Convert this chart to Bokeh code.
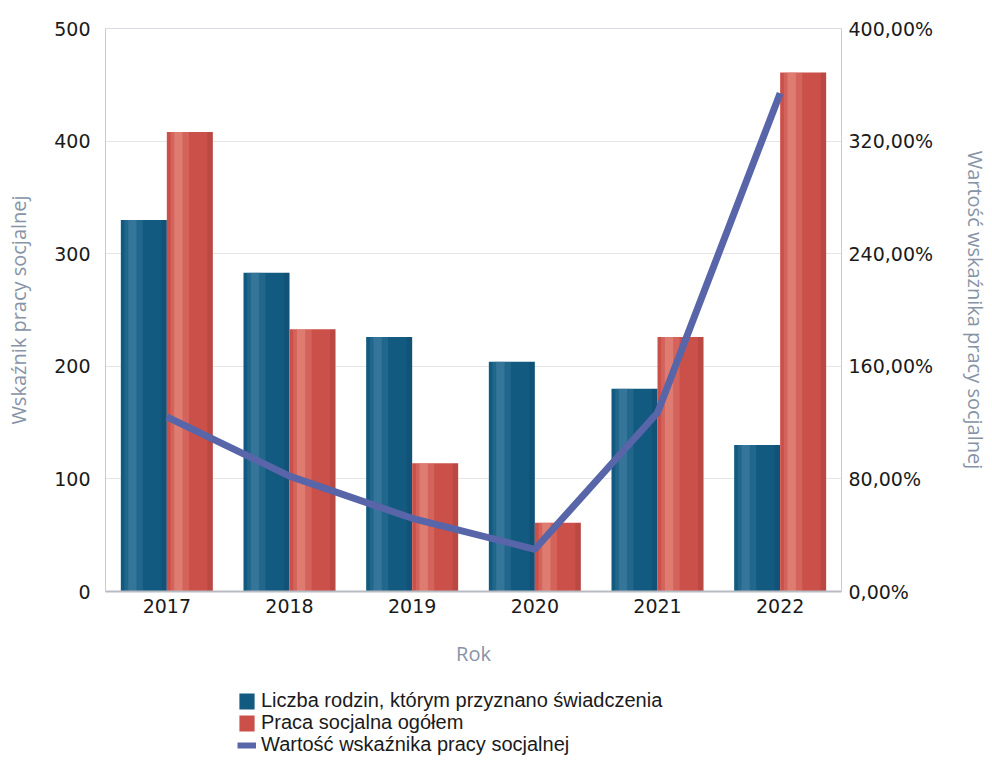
from bokeh.plotting import figure
from bokeh.layouts import column
from bokeh.models import (FactorRange, Range1d, LinearAxis, FixedTicker, Legend, LegendItem,
                          ColumnDataSource)
from bokeh.transform import dodge
from bokeh.embed import file_html
from bokeh.resources import INLINE

years = ["2017", "2018", "2019", "2020", "2021", "2022"]
rodziny = [330, 283, 226, 204, 180, 130]
praca = [408, 233, 114, 61, 226, 461]
wskaznik = [124, 82, 52, 30, 127, 354]

left_ticks = [0, 100, 200, 300, 400, 500]
right_ticks = [0, 80, 160, 240, 320, 400]
right_labels = ["0,00%", "80,00%", "160,00%", "240,00%", "320,00%", "400,00%"]

series_names = ["Liczba rodzin, którym przyznano świadczenia",
                "Praca socjalna ogółem",
                "Wartość wskaźnika pracy socjalnej"]

src = ColumnDataSource(dict(year=years, rodziny=rodziny, praca=praca, wsk=wskaznik))

BLUE = "#135a80"
BLUE_HI = "#5a93b5"
RED = "#cb5049"
RED_HI = "#ec9a8c"
SHADE = "#000000"
LINE = "#5865a8"
TITLE_COL = "#8793a6"
TICK_FONT = "DejaVu Sans"

W = 992
p = figure(width=W, height=686,
           x_range=FactorRange(*years, range_padding=0),
           y_range=Range1d(0, 500),
           output_backend="svg", toolbar_location=None,
           min_border_left=105, min_border_right=149, min_border_top=28, min_border_bottom=95)
p.extra_y_ranges = {"pct": Range1d(0, 400)}

p.outline_line_color = "#d9dde3"
p.xgrid.grid_line_color = None
p.ygrid.grid_line_color = "#e3e5e8"
p.ygrid.ticker = FixedTicker(ticks=left_ticks)

bw = 0.375


def shaded_bars(fig, offset, field, base, hi, hi_alpha):
    r = fig.vbar(x=dodge("year", offset, range=fig.x_range), top=field, width=bw, source=src,
                 fill_color=base, line_color=None)
    fig.vbar(x=dodge("year", offset - bw * 0.22, range=fig.x_range), top=field, width=bw * 0.4,
             source=src, fill_color=hi, fill_alpha=hi_alpha * 0.6, line_color=None)
    fig.vbar(x=dodge("year", offset - bw * 0.25, range=fig.x_range), top=field, width=bw * 0.18,
             source=src, fill_color=hi, fill_alpha=hi_alpha, line_color=None)
    fig.vbar(x=dodge("year", offset + bw * 0.44, range=fig.x_range), top=field, width=bw * 0.12,
             source=src, fill_color=SHADE, fill_alpha=0.08, line_color=None)
    return r


r1 = shaded_bars(p, -bw / 2, "rodziny", BLUE, BLUE_HI, 0.35)
r2 = shaded_bars(p, bw / 2, "praca", RED, RED_HI, 0.45)
r3 = p.line(x="year", y="wsk", source=src, y_range_name="pct", line_color=LINE, line_width=7)

# left axis
ya = p.yaxis[0]
ya.ticker = FixedTicker(ticks=left_ticks)
ya.axis_label = "Wskaźnik pracy socjalnej"
ya.axis_label_text_font = "Open Sans"
ya.axis_label_text_font_style = "normal"
ya.axis_label_text_font_size = "20px"
ya.axis_label_text_color = TITLE_COL
ya.axis_label_standoff = 19
ya.major_label_text_font = TICK_FONT
ya.major_label_text_font_size = "19px"
ya.major_label_text_color = "#1a1a1a"
ya.major_label_standoff = 15
ya.major_tick_line_color = None
ya.minor_tick_line_color = None
ya.major_tick_out = 0
ya.minor_tick_out = 0
ya.axis_line_color = "#c9cdd3"

# right axis
ra = LinearAxis(y_range_name="pct", ticker=FixedTicker(ticks=right_ticks))
ra.major_label_overrides = {t: l for t, l in zip(right_ticks, right_labels)}
ra.axis_label = "Wartość wskaźnika pracy socjalnej"
ra.axis_label_text_font = "Open Sans"
ra.axis_label_text_font_style = "normal"
ra.axis_label_text_font_size = "20px"
ra.axis_label_text_color = TITLE_COL
ra.axis_label_standoff = 26
ra.major_label_text_font = TICK_FONT
ra.major_label_text_font_size = "19px"
ra.major_label_text_color = "#1a1a1a"
ra.major_label_standoff = 7
ra.major_tick_line_color = None
ra.minor_tick_line_color = None
ra.major_tick_out = 0
ra.minor_tick_out = 0
ra.axis_line_color = "#c9cdd3"
p.add_layout(ra, "right")

# x axis
xa = p.xaxis[0]
xa.axis_label = "Rok"
xa.axis_label_text_font = "Open Sans"
xa.axis_label_text_font_style = "normal"
xa.axis_label_text_font_size = "20px"
xa.axis_label_text_color = TITLE_COL
xa.axis_label_standoff = 24
xa.major_label_text_font = TICK_FONT
xa.major_label_text_font_size = "19px"
xa.major_label_text_color = "#1a1a1a"
xa.major_label_standoff = 7
xa.major_tick_line_color = None
xa.minor_tick_line_color = None
xa.major_tick_out = 0
xa.axis_line_color = "#b8bcc2"
xa.axis_line_width = 2

# legend in its own strip below the chart (series kept out of view, only legend shown)
lg = figure(width=W, height=75, x_range=FactorRange(*years, range_padding=0),
            y_range=Range1d(600, 700),
            output_backend="svg", toolbar_location=None,
            min_border=0, min_border_left=0, min_border_right=0,
            min_border_top=0, min_border_bottom=0)
lg.axis.visible = False
lg.grid.visible = False
lg.outline_line_color = None
g1 = lg.vbar(x="year", top="rodziny", width=bw, source=src, fill_color=BLUE, line_color=None)
g2 = lg.vbar(x="year", top="praca", width=bw, source=src, fill_color=RED, line_color=None)
g3 = lg.line(x="year", y="wsk", source=src, line_color=LINE, line_width=6)

row_offsets = [49, 27, 5]
for name, rend, yoff in zip(series_names, [g1, g2, g3], row_offsets):
    legend = Legend(items=[LegendItem(label=name, renderers=[rend])],
                    location=(132, yoff), orientation="vertical",
                    label_text_font="Liberation Sans", label_text_font_size="20px",
                    label_text_color="#1a1a1a", label_height=20, label_standoff=5,
                    glyph_width=19, glyph_height=20, spacing=0, padding=0, margin=0,
                    border_line_color=None, background_fill_alpha=0)
    lg.add_layout(legend, "center")

layout = column(p, lg, spacing=0)
open("out.html", "w").write(file_html(layout, INLINE))
